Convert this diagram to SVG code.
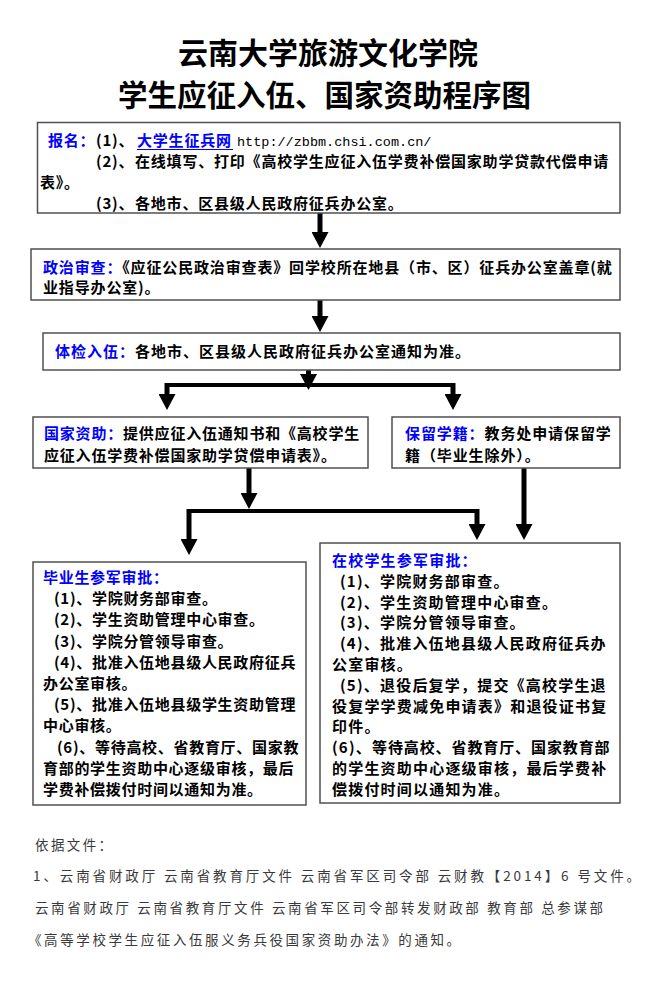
<svg xmlns="http://www.w3.org/2000/svg" width="670" height="998" viewBox="0 0 670 998">
<style>
.bg{fill:#fff}
.box{fill:#fff;stroke:#505050;stroke-width:1.5}
.t{font-family:"Noto Sans CJK SC","Noto Sans CJK TC",sans-serif;font-size:15px;font-weight:700;fill:#000}
.b{fill:#0000ff}
.mono{font-family:"Liberation Mono",monospace;font-size:13.5px;font-weight:400;fill:#000}
.title{font-family:"Noto Sans CJK SC",sans-serif;font-weight:700;fill:#000}
.note{font-family:"Noto Sans CJK SC",sans-serif;font-size:13.5px;font-weight:400;fill:#3a3a3a}
.shaft{stroke:#000;stroke-width:5;fill:none}
.bar{stroke:#000;stroke-width:4;fill:none}
</style>
<defs>
<marker id="ah" markerUnits="userSpaceOnUse" markerWidth="16" markerHeight="17" viewBox="0 0 16 17" refX="0" refY="8.5" orient="auto">
<path d="M0,0 L16,8.5 L0,17 Z" fill="#000"/>
</marker>
</defs>
<rect class="bg" x="0" y="0" width="670" height="998"/>

<g id="title">
<text class="title" x="178" y="64" font-size="30">云南大学旅游文化学院</text>
<text class="title" x="118" y="106" font-size="29.5">学生应征入伍、国家资助程序图</text>
</g>

<g id="connectors">
<path class="shaft" d="M320,213 V232" marker-end="url(#ah)"/>
<path class="shaft" d="M320,300 V316" marker-end="url(#ah)"/>
<path class="shaft" d="M308.5,370 V374" marker-end="url(#ah)"/>
<path class="bar" d="M167,385 H453"/>
<path class="shaft" d="M167,383 V394" marker-end="url(#ah)"/>
<path class="shaft" d="M453,383 V394" marker-end="url(#ah)"/>
<path class="shaft" d="M249,468 V493" marker-end="url(#ah)"/>
<path class="bar" d="M189,511 H477"/>
<path class="shaft" d="M189,509 V539" marker-end="url(#ah)"/>
<path class="shaft" d="M477,509 V524" marker-end="url(#ah)"/>
<path class="shaft" d="M524,468 V524" marker-end="url(#ah)"/>
</g>

<g id="n-baoming">
<rect class="box" x="37.5" y="122.5" width="582.5" height="90.5"/>
<text class="t" y="146" letter-spacing="0.8"><tspan class="b" x="48">报名：</tspan><tspan x="96">(1)、</tspan><tspan class="b" x="137">大学生征兵网</tspan></text>
<line x1="137" y1="149.5" x2="233" y2="149.5" stroke="#0000ff" stroke-width="1.2"/>
<text class="mono" x="237" y="146">http://zbbm.chsi.com.cn/</text>
<text class="t" y="167" letter-spacing="0.8"><tspan x="96">(2)、</tspan><tspan x="135">在线填写、打印《高校学生应征入伍学费补偿国家助学贷款代偿申请</tspan></text>
<text class="t" x="40" y="188" letter-spacing="0.8">表》。</text>
<text class="t" y="209" letter-spacing="0.8"><tspan x="96">(3)、</tspan><tspan x="135">各地市、区县级人民政府征兵办公室。</tspan></text>
</g>

<g id="n-zhengzhi">
<rect class="box" x="31" y="249" width="589" height="51"/>
<text class="t" x="43" y="273" letter-spacing="0.85"><tspan class="b">政治审查：</tspan>《应征公民政治审查表》回学校所在地县（市、区）征兵办公室盖章(就</text>
<text class="t" x="43" y="293" letter-spacing="0.85">业指导办公室)。</text>
</g>

<g id="n-tijian">
<rect class="box" x="43" y="333" width="577" height="37"/>
<text class="t" x="55" y="357" letter-spacing="1"><tspan class="b">体检入伍：</tspan>各地市、区县级人民政府征兵办公室通知为准。</text>
</g>

<g id="n-guojia">
<rect class="box" x="33" y="417" width="335" height="51"/>
<text class="t" x="44" y="439" letter-spacing="0.8"><tspan class="b">国家资助：</tspan>提供应征入伍通知书和《高校学生</text>
<text class="t" x="44" y="461" letter-spacing="0.8">应征入伍学费补偿国家助学贷偿申请表》。</text>
</g>

<g id="n-baoliu">
<rect class="box" x="392" y="417" width="228" height="51"/>
<text class="t" x="405" y="439" letter-spacing="0.9"><tspan class="b">保留学籍：</tspan>教务处申请保留学</text>
<text class="t" x="405" y="461" letter-spacing="0.9">籍（毕业生除外）。</text>
</g>

<g id="n-biye">
<rect class="box" x="33" y="562" width="273" height="243"/>
<text class="t b" x="43" y="583" letter-spacing="0.7">毕业生参军审批：</text>
<text class="t" y="604" letter-spacing="0.7"><tspan x="54">(1)、</tspan><tspan x="92">学院财务部审查。</tspan></text>
<text class="t" y="625" letter-spacing="0.7"><tspan x="54">(2)、</tspan><tspan x="92">学生资助管理中心审查。</tspan></text>
<text class="t" y="646.5" letter-spacing="0.7"><tspan x="54">(3)、</tspan><tspan x="92">学院分管领导审查。</tspan></text>
<text class="t" y="668" letter-spacing="0.7"><tspan x="54">(4)、</tspan><tspan x="92">批准入伍地县级人民政府征兵</tspan></text>
<text class="t" x="43" y="689" letter-spacing="0.7">办公室审核。</text>
<text class="t" y="710" letter-spacing="0.7"><tspan x="54">(5)、</tspan><tspan x="92">批准入伍地县级学生资助管理</tspan></text>
<text class="t" x="43" y="731" letter-spacing="0.7">中心审核。</text>
<text class="t" y="752.5" letter-spacing="0.7"><tspan x="57">(6)、</tspan><tspan x="95">等待高校、省教育厅、国家教</tspan></text>
<text class="t" x="43" y="774" letter-spacing="0.7">育部的学生资助中心逐级审核，最后</text>
<text class="t" x="43" y="795" letter-spacing="0.7">学费补偿拨付时间以通知为准。</text>
</g>

<g id="n-zaixiao">
<rect class="box" x="320" y="543" width="300" height="260"/>
<text class="t b" x="332" y="566" letter-spacing="1.2">在校学生参军审批：</text>
<text class="t" y="587" letter-spacing="1.2"><tspan x="340">(1)、</tspan><tspan x="380">学院财务部审查。</tspan></text>
<text class="t" y="608" letter-spacing="1.2"><tspan x="340">(2)、</tspan><tspan x="380">学生资助管理中心审查。</tspan></text>
<text class="t" y="628" letter-spacing="1.2"><tspan x="340">(3)、</tspan><tspan x="380">学院分管领导审查。</tspan></text>
<text class="t" y="649" letter-spacing="1.2"><tspan x="340">(4)、</tspan><tspan x="380">批准入伍地县级人民政府征兵办</tspan></text>
<text class="t" x="332" y="670" letter-spacing="1.2">公室审核。</text>
<text class="t" y="691" letter-spacing="1.2"><tspan x="340">(5)、</tspan><tspan x="380">退役后复学，提交《高校学生退</tspan></text>
<text class="t" x="332" y="712" letter-spacing="1.2">役复学学费减免申请表》和退役证书复</text>
<text class="t" x="332" y="732" letter-spacing="1.2">印件。</text>
<text class="t" y="753"><tspan x="332" letter-spacing="1.2">(6)、</tspan><tspan x="372" letter-spacing="0.9">等待高校、省教育厅、国家教育部</tspan></text>
<text class="t" x="332" y="774" letter-spacing="1.2">的学生资助中心逐级审核，最后学费补</text>
<text class="t" x="332" y="795" letter-spacing="1.2">偿拨付时间以通知为准。</text>
</g>

<g id="notes">
<text class="note" x="35" y="850" letter-spacing="2.4">依据文件：</text>
<text class="note" x="33" y="881" textLength="607" lengthAdjust="spacing">1、云南省财政厅 云南省教育厅文件 云南省军区司令部 云财教【2014】6 号文件。</text>
<text class="note" x="35" y="913" textLength="568" lengthAdjust="spacing">云南省财政厅 云南省教育厅文件 云南省军区司令部转发财政部 教育部 总参谋部</text>
<text class="note" x="28" y="945" letter-spacing="2.6">《高等学校学生应征入伍服义务兵役国家资助办法》的通知。</text>
</g>
</svg>
